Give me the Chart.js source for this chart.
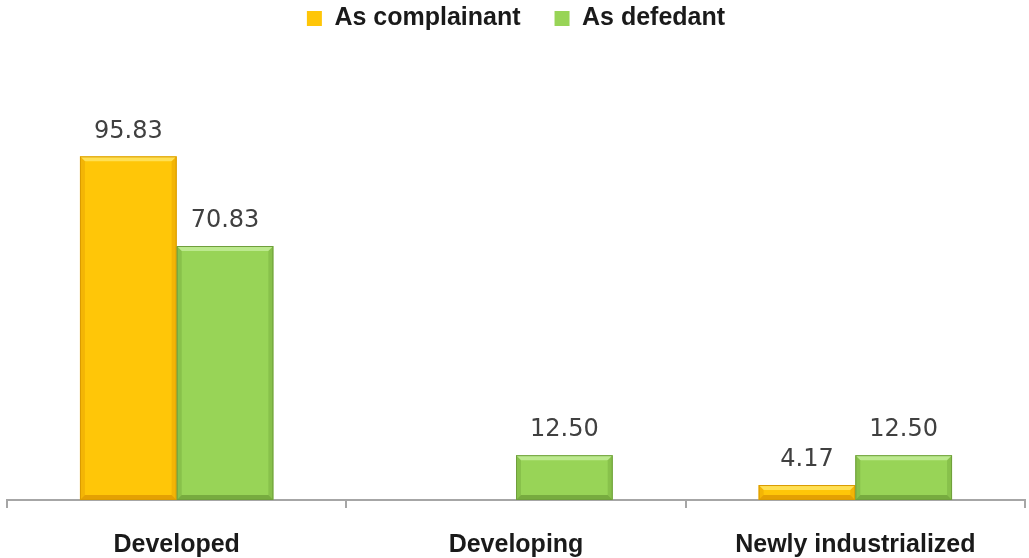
<!DOCTYPE html>
<html>
<head>
<meta charset="utf-8">
<script src="https://cdn.jsdelivr.net/npm/chart.js@4/dist/chart.umd.min.js"></script>
<style>
  html, body { margin: 0; padding: 0; background: #ffffff; }
  #wrap { width: 1029px; height: 558px; }
</style>
</head>
<body>
<div id="wrap"><canvas id="chart"></canvas></div>
<script>
const categories = ["Developed", "Developing", "Newly industrialized"];
const complainant = [95.83, null, 4.17];
const defendant = [70.83, 12.5, 12.5];
const seriesNames = ["As complainant", "As defedant"];

// bevelled look for each bar: light top ridge, darker sides and outline
const bevelPlugin = {
  id: "bevel",
  afterDatasetsDraw(chart) {
    const ctx = chart.ctx;
    const shades = [
      { top: "rgba(255,232,110,0.75)", side: "rgba(220,150,0,0.35)", bottom: "rgba(205,130,0,0.55)", edge: "#d99a00" },
      { top: "rgba(200,240,160,0.75)", side: "rgba(100,150,50,0.3)", bottom: "rgba(85,130,40,0.5)", edge: "#6f9f3c" },
    ];
    chart.data.datasets.forEach((ds, i) => {
      const meta = chart.getDatasetMeta(i);
      const s = shades[i];
      meta.data.forEach((bar, j) => {
        if (ds.data[j] == null) return;
        const left = bar.x - bar.width / 2;
        const right = bar.x + bar.width / 2;
        const top = bar.y;
        const bottom = bar.base;
        const b = Math.min(5, (bottom - top) / 2);
        ctx.save();
        ctx.fillStyle = s.top;
        ctx.beginPath();
        ctx.moveTo(left, top);
        ctx.lineTo(right, top);
        ctx.lineTo(right - b, top + b);
        ctx.lineTo(left + b, top + b);
        ctx.closePath();
        ctx.fill();
        ctx.fillStyle = s.side;
        ctx.beginPath();
        ctx.moveTo(left, top);
        ctx.lineTo(left + b, top + b);
        ctx.lineTo(left + b, bottom - b);
        ctx.lineTo(left, bottom);
        ctx.closePath();
        ctx.fill();
        ctx.beginPath();
        ctx.moveTo(right, top);
        ctx.lineTo(right - b, top + b);
        ctx.lineTo(right - b, bottom - b);
        ctx.lineTo(right, bottom);
        ctx.closePath();
        ctx.fill();
        ctx.fillStyle = s.bottom;
        ctx.beginPath();
        ctx.moveTo(left, bottom);
        ctx.lineTo(left + b, bottom - b);
        ctx.lineTo(right - b, bottom - b);
        ctx.lineTo(right, bottom);
        ctx.closePath();
        ctx.fill();
        ctx.strokeStyle = s.edge;
        ctx.lineWidth = 1;
        ctx.strokeRect(left + 0.5, top + 0.5, right - left - 1, bottom - top - 1);
        ctx.restore();
      });
    });
  },
};

// value above each bar
const valueLabels = {
  id: "valueLabels",
  afterDatasetsDraw(chart) {
    const ctx = chart.ctx;
    ctx.save();
    ctx.font = "24px 'DejaVu Sans'";
    ctx.fillStyle = "#404040";
    ctx.textAlign = "center";
    ctx.textBaseline = "bottom";
    chart.data.datasets.forEach((ds, i) => {
      const meta = chart.getDatasetMeta(i);
      meta.data.forEach((bar, j) => {
        const v = ds.data[j];
        if (v == null) return;
        ctx.fillText(v.toFixed(2), bar.x, bar.y - 13);
      });
    });
    ctx.restore();
  },
};

new Chart(document.getElementById("chart"), {
  type: "bar",
  data: {
    labels: categories,
    datasets: [
      {
        label: seriesNames[0],
        data: complainant,
        backgroundColor: "#ffc608",
        borderWidth: 0,
      },
      {
        label: seriesNames[1],
        data: defendant,
        backgroundColor: "#98d457",
        borderWidth: 0,
      },
    ],
  },
  options: {
    responsive: true,
    maintainAspectRatio: false,
    animation: false,
    datasets: {
      bar: { categoryPercentage: 0.57, barPercentage: 1.0 },
    },
    layout: { padding: { left: 7, right: 4, top: -28, bottom: 0 } },
    scales: {
      x: {
        afterFit(scale) {
          scale.height = 58;
        },
        grid: {
          display: true,
          drawOnChartArea: false,
          drawTicks: true,
          tickLength: 8,
          color: "#a6a6a6",
          lineWidth: 2,
        },
        border: { color: "#a6a6a6", width: 2 },
        ticks: {
          color: "#1a1a1a",
          padding: 22,
          font: { family: "'Liberation Sans'", size: 25, weight: "bold" },
        },
      },
      y: {
        display: false,
        min: 0,
        max: 128,
      },
    },
    plugins: {
      legend: {
        position: "top",
        labels: {
          boxWidth: 15,
          boxHeight: 15,
          padding: 34,
          color: "#1a1a1a",
          font: { family: "'Liberation Sans'", size: 25, weight: "bold" },
        },
      },
      tooltip: { enabled: false },
    },
  },
  plugins: [bevelPlugin, valueLabels],
});
</script>
</body>
</html>
